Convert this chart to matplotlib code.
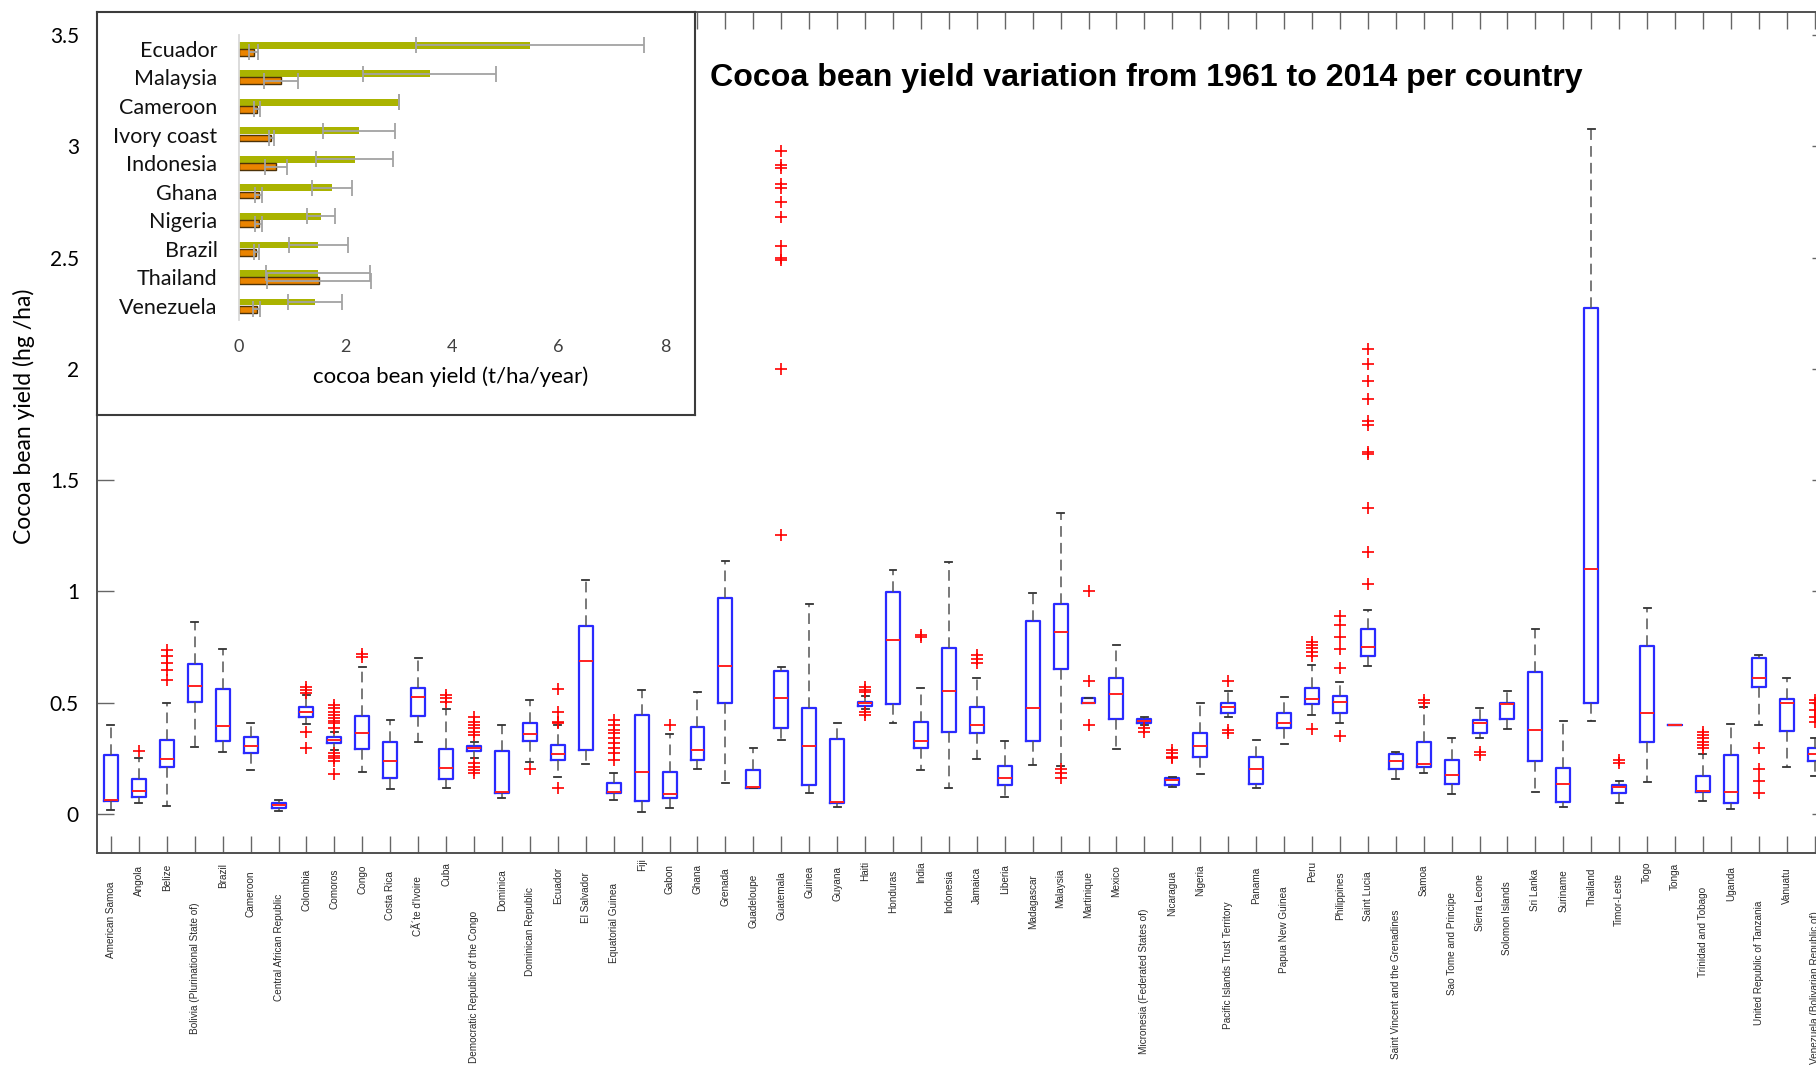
import matplotlib
matplotlib.use("Agg")
import matplotlib.pyplot as plt
from matplotlib.transforms import blended_transform_factory

W, H, DPI = 1816, 1071, 100

# ---- per-country yield distributions (hg/ha scaled), 1961-2014 ----
countries = [
    "American Samoa", "Angola", "Belize", "Bolivia (Plurinational State of)", "Brazil",
    "Cameroon", "Central African Republic", "Colombia", "Comoros", "Congo",
    "Costa Rica", "C\u00c3\u00b4te d'Ivoire", "Cuba", "Democratic Republic of the Congo",
    "Dominica", "Dominican Republic", "Ecuador", "El Salvador", "Equatorial Guinea",
    "Fiji", "Gabon", "Ghana", "Grenada", "Guadeloupe", "Guatemala", "Guinea",
    "Guyana", "Haiti", "Honduras", "India", "Indonesia", "Jamaica", "Liberia",
    "Madagascar", "Malaysia", "Martinique", "Mexico", "Micronesia (Federated States of)",
    "Nicaragua", "Nigeria", "Pacific Islands Trust Territory", "Panama",
    "Papua New Guinea", "Peru", "Philippines", "Saint Lucia",
    "Saint Vincent and the Grenadines", "Samoa", "Sao Tome and Principe",
    "Sierra Leone", "Solomon Islands", "Sri Lanka", "Suriname", "Thailand",
    "Timor-Leste", "Togo", "Tonga", "Trinidad and Tobago", "Uganda",
    "United Republic of Tanzania", "Vanuatu", "Venezuela (Bolivarian Republic of)",
]

whisker_low = [0.018, 0.051, 0.037, 0.299, 0.279, 0.196, 0.012, 0.404, 0.287, 0.190,
               0.114, 0.325, 0.118, 0.253, 0.070, 0.235, 0.165, 0.223, 0.063, 0.010,
               0.025, 0.204, 0.139, 0.118, 0.331, 0.096, 0.033, 0.470, 0.407, 0.198,
               0.118, 0.247, 0.075, 0.220, 0.217, 0.497, 0.290, 0.400, 0.123, 0.178,
               0.437, 0.115, 0.313, 0.445, 0.410, 0.666, 0.157, 0.183, 0.088, 0.340,
               0.380, 0.097, 0.033, 0.418, 0.051, 0.145, 0.400, 0.058, 0.021, 0.400,
               0.210, 0.172]
quart1 = [0.058, 0.078, 0.210, 0.503, 0.329, 0.272, 0.028, 0.437, 0.318, 0.290,
          0.163, 0.440, 0.157, 0.283, 0.096, 0.328, 0.243, 0.288, 0.093, 0.057,
          0.072, 0.243, 0.497, 0.118, 0.388, 0.130, 0.051, 0.487, 0.493, 0.298,
          0.367, 0.365, 0.130, 0.328, 0.653, 0.497, 0.425, 0.407, 0.130, 0.258,
          0.455, 0.133, 0.388, 0.493, 0.455, 0.711, 0.202, 0.213, 0.133, 0.365,
          0.428, 0.240, 0.052, 0.497, 0.093, 0.325, 0.400, 0.100, 0.048, 0.572,
          0.373, 0.238]
median = [0.062, 0.105, 0.247, 0.575, 0.397, 0.305, 0.039, 0.460, 0.332, 0.362,
          0.240, 0.524, 0.205, 0.295, 0.100, 0.358, 0.269, 0.687, 0.097, 0.189,
          0.090, 0.289, 0.666, 0.123, 0.523, 0.304, 0.052, 0.497, 0.782, 0.329,
          0.553, 0.400, 0.163, 0.475, 0.816, 0.500, 0.538, 0.418, 0.153, 0.307,
          0.482, 0.201, 0.410, 0.517, 0.505, 0.750, 0.240, 0.223, 0.175, 0.410,
          0.494, 0.377, 0.133, 1.102, 0.123, 0.455, 0.400, 0.105, 0.097, 0.609,
          0.497, 0.270]
quart3 = [0.265, 0.157, 0.332, 0.672, 0.560, 0.347, 0.048, 0.482, 0.347, 0.442,
          0.325, 0.565, 0.290, 0.307, 0.284, 0.410, 0.310, 0.846, 0.138, 0.443,
          0.189, 0.392, 0.972, 0.198, 0.642, 0.478, 0.335, 0.505, 0.996, 0.415,
          0.747, 0.479, 0.217, 0.868, 0.945, 0.523, 0.609, 0.425, 0.160, 0.365,
          0.500, 0.258, 0.455, 0.567, 0.530, 0.833, 0.268, 0.322, 0.243, 0.422,
          0.497, 0.636, 0.205, 2.272, 0.130, 0.756, 0.400, 0.171, 0.265, 0.699,
          0.517, 0.295]
whisker_high = [0.400, 0.250, 0.497, 0.864, 0.741, 0.407, 0.063, 0.535, 0.370, 0.659,
                0.422, 0.699, 0.470, 0.322, 0.400, 0.512, 0.400, 1.051, 0.183, 0.557,
                0.358, 0.548, 1.138, 0.298, 0.662, 0.942, 0.407, 0.530, 1.096, 0.567,
                1.131, 0.609, 0.329, 0.994, 1.354, 0.523, 0.759, 0.437, 0.168, 0.497,
                0.554, 0.332, 0.527, 0.669, 0.592, 0.918, 0.277, 0.480, 0.340, 0.475,
                0.554, 0.830, 0.418, 3.079, 0.150, 0.927, 0.400, 0.268, 0.404, 0.714,
                0.612, 0.343]
outliers = [
    [], [0.284], [0.602, 0.647, 0.680, 0.710, 0.737], [], [], [], [],
    [0.298, 0.370, 0.542, 0.557, 0.572],
    [0.180, 0.240, 0.250, 0.261, 0.273, 0.385, 0.407, 0.419, 0.430, 0.445, 0.460, 0.475, 0.490],
    [0.707, 0.719], [], [], [0.505, 0.520, 0.535],
    [0.183, 0.198, 0.213, 0.228, 0.355, 0.370, 0.385, 0.400, 0.415, 0.434],
    [], [0.201], [0.115, 0.407, 0.415, 0.460, 0.560], [],
    [0.242, 0.272, 0.295, 0.317, 0.340, 0.362, 0.377, 0.400, 0.422],
    [], [0.400], [], [], [],
    [1.253, 1.999, 2.489, 2.496, 2.551, 2.683, 2.751, 2.811, 2.829, 2.903, 2.916, 2.978],
    [], [], [0.445, 0.460, 0.550, 0.557, 0.572], [], [0.794, 0.804], [],
    [0.677, 0.695, 0.714], [], [], [0.163, 0.183, 0.202], [0.400, 0.597, 1.000], [],
    [0.370, 0.385], [0.250, 0.258, 0.272, 0.287], [], [0.365, 0.377, 0.597], [], [],
    [0.382, 0.710, 0.729, 0.744, 0.759, 0.774], [0.350, 0.654, 0.741, 0.797, 0.849, 0.890],
    [1.034, 1.178, 1.375, 1.619, 1.627, 1.747, 1.764, 1.864, 1.947, 2.022, 2.089],
    [], [0.497, 0.512], [], [0.265, 0.280], [], [], [], [], [0.228, 0.243], [], [],
    [0.295, 0.310, 0.325, 0.340, 0.355, 0.370], [], [0.096, 0.148, 0.201, 0.298], [],
    [0.415, 0.437, 0.467, 0.497, 0.512],
]

# ---- inset: mean yield per producer (t/ha/year) ----
inset_countries = ["Ecuador", "Malaysia", "Cameroon", "Ivory coast", "Indonesia",
                   "Ghana", "Nigeria", "Brazil", "Thailand", "Venezuela"]
potential_yield = [5.47, 3.58, 3.00, 2.26, 2.17, 1.75, 1.54, 1.49, 1.49, 1.425]
potential_err = [2.14, 1.245, 0.0, 0.675, 0.72, 0.38, 0.26, 0.555, 0.975, 0.51]
actual_yield = [0.275, 0.79, 0.34, 0.61, 0.70, 0.37, 0.37, 0.325, 1.51, 0.33]
actual_err = [0.09, 0.32, 0.05, 0.05, 0.21, 0.07, 0.07, 0.05, 0.975, 0.07]
inset_ticks = [0, 2, 4, 6, 8]
main_yticks = [0, 0.5, 1, 1.5, 2, 2.5, 3, 3.5]


def fig_rect(x0, y0, x1, y1):
    """Pixel box (top-left origin) -> figure fraction rect."""
    return [x0 / W, 1 - y1 / H, (x1 - x0) / W, (y1 - y0) / H]


fig = plt.figure(figsize=(W / DPI, H / DPI), dpi=DPI, facecolor="white")

# ---------------- main box-plot axes ----------------
n = len(countries)
positions = list(range(1, n + 1))
step_px = 27.93
ax = fig.add_axes(fig_rect(97, 12, 97 + n * step_px, 853))

stats = []
for i in range(n):
    stats.append(dict(label=countries[i], whislo=whisker_low[i], q1=quart1[i],
                      med=median[i], q3=quart3[i], whishi=whisker_high[i],
                      fliers=outliers[i]))

ax.bxp(stats, positions=positions, widths=0.5, showfliers=True,
       boxprops=dict(color="#2a2aff", linewidth=1.6),
       medianprops=dict(color="#ff2020", linewidth=1.4),
       whiskerprops=dict(color="#555555", linewidth=1.1, linestyle=(0, (7, 4))),
       capprops=dict(color="#333333", linewidth=1.3),
       flierprops=dict(marker="+", markeredgecolor="#ff0000", markersize=8,
                       markeredgewidth=1.2, linestyle="none"))

ax.set_xlim(0.5, n + 0.5)
ax.set_ylim(-0.175, 3.603)
ax.set_xticks(positions)
ax.set_yticks(main_yticks)
ax.set_yticklabels(["0", "0.5", "1", "1.5", "2", "2.5", "3", "3.5"])
ax.tick_params(axis="both", direction="in", length=12.5, width=1.0, color="#666666",
               top=True, right=True, labelbottom=False)
ax.tick_params(axis="y", labelsize=15, pad=13, labelcolor="black")
for lab in ax.get_yticklabels():
    lab.set_fontfamily(["Lato", "DejaVu Sans"])
for sp in ax.spines.values():
    sp.set_color("#505050")
    sp.set_linewidth(1.4)

# rotated country names under the axis
trans = blended_transform_factory(ax.transData, fig.transFigure)
name_texts = []
for pos, name in zip(positions, countries):
    t = ax.text(pos, 0.0, name, transform=trans, rotation=90, ha="center",
                va="center", fontsize=7.2, family=["Liberation Sans", "DejaVu Sans"],
                color="#2a2a2a", clip_on=False)
    name_texts.append(t)

fig.text(24 / W, 1 - 416 / H, "Cocoa bean yield (hg /ha)", rotation=90,
         ha="center", va="center", fontsize=16.5, family=["Lato", "DejaVu Sans"])

fig.text(1146 / W, 1 - 78 / H, "Cocoa bean yield variation from 1961 to 2014 per country",
         ha="center", va="center", fontsize=23.1, fontweight="bold",
         family=["Liberation Sans", "DejaVu Sans"])

# ---------------- inset bar chart ----------------
frame = fig.add_axes(fig_rect(97, 12, 695, 415))
frame.set_zorder(5)
frame.set_facecolor("white")
frame.set_xticks([])
frame.set_yticks([])
for sp in frame.spines.values():
    sp.set_color("#3c3c3c")
    sp.set_linewidth(1.5)

axi = fig.add_axes(fig_rect(239, 34.7, 665, 320))
axi.set_zorder(6)
axi.patch.set_alpha(0)
rows = list(range(len(inset_countries)))
axi.barh([r - 0.13 for r in rows], potential_yield, height=0.24, color="#aab300",
         xerr=potential_err,
         error_kw=dict(ecolor="#a3a3a3", elinewidth=1.3, capsize=5.5, capthick=1.3))
axi.barh([r + 0.12 for r in rows], actual_yield, height=0.24, color="#ea8400",
         edgecolor="#4d3208", linewidth=1.0, xerr=actual_err,
         error_kw=dict(ecolor="#a3a3a3", elinewidth=1.3, capsize=5.5, capthick=1.3))
axi.set_xlim(0, 8)
axi.set_ylim(len(rows) - 0.5, -0.5)
axi.set_yticks(rows)
axi.set_yticklabels(inset_countries)
axi.set_xticks(inset_ticks)
axi.tick_params(axis="y", left=False, labelsize=15.5, pad=12, labelcolor="#111111")
axi.tick_params(axis="x", bottom=False, labelsize=13, pad=10, labelcolor="#404040")
for lab in axi.get_xticklabels() + axi.get_yticklabels():
    lab.set_fontfamily(["Lato", "DejaVu Sans"])
for side in ("top", "right", "bottom"):
    axi.spines[side].set_visible(False)
axi.spines["left"].set_color("#d9d9d9")
axi.spines["left"].set_linewidth(1.3)

fig.text(451 / W, 1 - 377 / H, "cocoa bean yield (t/ha/year)", ha="center",
         va="center", fontsize=16, family=["Lato", "DejaVu Sans"], zorder=7)

# place each country name below the axis, staggered by its own length
fig.canvas.draw()
renderer = fig.canvas.get_renderer()
for t in name_texts:
    length = t.get_window_extent(renderer).height
    top = 853 + 0.38 * length
    t.set_y(1 - (top + length / 2) / H)

fig.savefig("out.png", dpi=DPI, facecolor="white")
